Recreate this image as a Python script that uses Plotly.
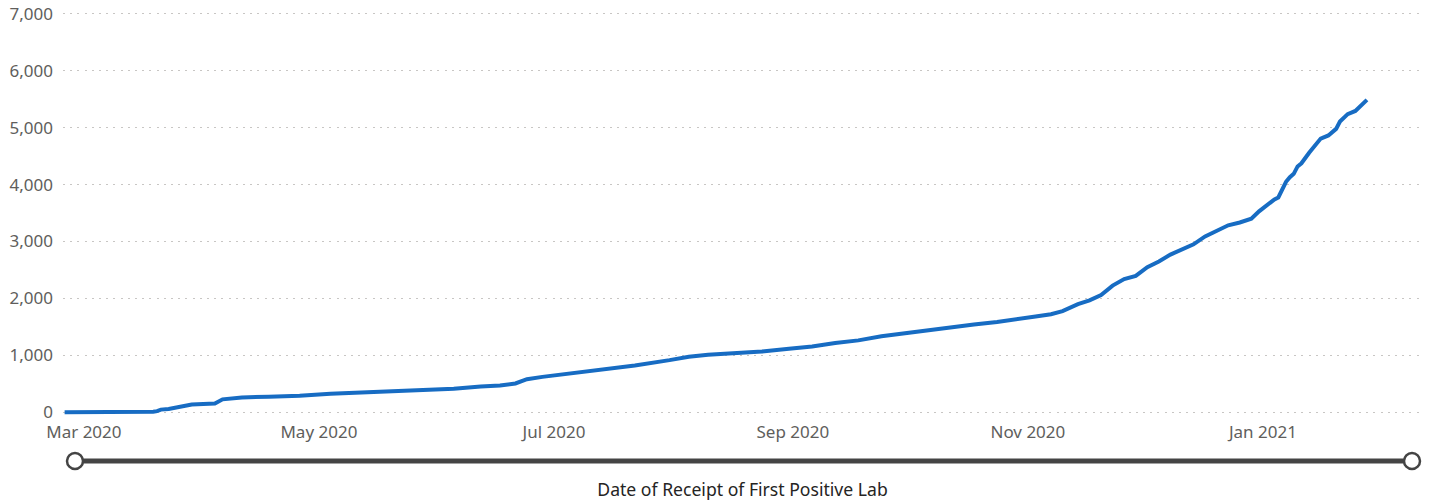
import plotly.graph_objects as go

# ---- data ----
dates = [
    "2020-02-25", "2020-03-01", "2020-03-08", "2020-03-15", "2020-03-19", "2020-03-20",
    "2020-03-21", "2020-03-23", "2020-03-24", "2020-03-26", "2020-03-29", "2020-04-01",
    "2020-04-04", "2020-04-06", "2020-04-08", "2020-04-11", "2020-04-18", "2020-04-26",
    "2020-05-04", "2020-05-12", "2020-05-20", "2020-05-28", "2020-06-05", "2020-06-12",
    "2020-06-17", "2020-06-21", "2020-06-24", "2020-06-28", "2020-07-05", "2020-07-13",
    "2020-07-22", "2020-07-31", "2020-08-05", "2020-08-10", "2020-08-17", "2020-08-24",
    "2020-08-31", "2020-09-06", "2020-09-12", "2020-09-18", "2020-09-24", "2020-09-30",
    "2020-10-06", "2020-10-12", "2020-10-18", "2020-10-24", "2020-10-30", "2020-11-03",
    "2020-11-07", "2020-11-10", "2020-11-14", "2020-11-17", "2020-11-20", "2020-11-23",
    "2020-11-26", "2020-11-29", "2020-12-02", "2020-12-05", "2020-12-08", "2020-12-11",
    "2020-12-14", "2020-12-17", "2020-12-20", "2020-12-23", "2020-12-26", "2020-12-29",
    "2020-12-31", "2021-01-02", "2021-01-04", "2021-01-05", "2021-01-07", "2021-01-08",
    "2021-01-09", "2021-01-10", "2021-01-11", "2021-01-13", "2021-01-15", "2021-01-16",
    "2021-01-18", "2021-01-20", "2021-01-21", "2021-01-23", "2021-01-25", "2021-01-28",
]
cases = [
    0, 0, 0, 3, 8, 18,
    45, 55, 70, 105, 135, 145,
    152, 225, 245, 258, 272, 288,
    322, 343, 362, 394, 410, 450,
    468, 505, 580, 620, 675, 737,
    822, 915, 975, 1010, 1035, 1065,
    1115, 1155, 1215, 1262, 1335, 1390,
    1428, 1490, 1540, 1585, 1635, 1680,
    1722, 1775, 1900, 1965, 2060, 2225,
    2340, 2395, 2550, 2650, 2770, 2860,
    2950, 3090, 3185, 3285, 3335, 3400,
    3530, 3640, 3740, 3775, 4050, 4130,
    4190, 4320, 4375, 4560, 4730, 4810,
    4865, 4980, 5110, 5240, 5295, 5490,
]

x_tick_vals = ["2020-03-01", "2020-05-01", "2020-07-01", "2020-09-01", "2020-11-01", "2021-01-01"]
x_tick_text = ["Mar 2020", "May 2020", "Jul 2020", "Sep 2020", "Nov 2020", "Jan 2021"]
y_tick_vals = [0, 1000, 2000, 3000, 4000, 5000, 6000, 7000]
x_title = "Date of Receipt of First Positive Lab"

FONT = "Segoe UI, Noto Sans, sans-serif"
LINE_BLUE = "#176CC3"
TICK_GRAY = "#605E5C"
SLIDER_GRAY = "#444444"

fig = go.Figure()
fig.add_trace(go.Scatter(
    x=dates, y=cases, mode="lines",
    line=dict(color=LINE_BLUE, width=4, shape="linear"),
    hoverinfo="x+y", showlegend=False,
))

W, H = 1435, 502
ml, mr, mt, mb = 63, 13, 12, 87
plot_h = H - mt - mb

fig.update_layout(
    width=W, height=H,
    margin=dict(l=ml, r=mr, t=mt, b=mb, pad=0),
    paper_bgcolor="white", plot_bgcolor="white",
    font=dict(family=FONT, color=TICK_GRAY),
    xaxis=dict(
        type="date",
        range=["2020-02-24 14:00", "2021-02-11 07:00"],
        tickmode="array", tickvals=x_tick_vals, ticktext=x_tick_text,
        tickfont=dict(size=17, color=TICK_GRAY),
        showgrid=False, zeroline=False, showline=False, ticks="",
        ticklabelstandoff=5,
        title=dict(text=x_title, font=dict(size=17.6, color="#252423"), standoff=41),
        automargin=False,
    ),
    yaxis=dict(
        range=[-50, 7035],
        tickmode="array", tickvals=y_tick_vals, tickformat=",d",
        tickfont=dict(size=17, color=TICK_GRAY),
        showgrid=True, gridcolor="#C8C6C4", gridwidth=1, griddash="2px,5.2px",
        zeroline=False, showline=False, ticks="",
        ticklabelstandoff=9,
        automargin=False,
    ),
)

# slider decoration below axis
slider_y_px = 461
slider_y = (H - mb - slider_y_px) / plot_h
plot_w = W - ml - mr
x_left = (75 - ml) / plot_w
x_right = (1412 - ml) / plot_w
fig.add_shape(type="line", xref="paper", yref="paper",
              x0=x_left, x1=x_right, y0=slider_y, y1=slider_y,
              line=dict(color=SLIDER_GRAY, width=5), layer="above")
for xa in (x_left, x_right):
    fig.add_shape(type="circle", xref="paper", yref="paper",
                  xsizemode="pixel", ysizemode="pixel",
                  xanchor=xa, yanchor=slider_y,
                  x0=-8, x1=8, y0=-8, y1=8,
                  fillcolor="white", line=dict(color=SLIDER_GRAY, width=2.5),
                  layer="above")

fig.write_html(
    "out.html",
    config={"displayModeBar": False},
    post_script="document.body.style.margin='0';document.body.style.overflow='hidden';",
)
